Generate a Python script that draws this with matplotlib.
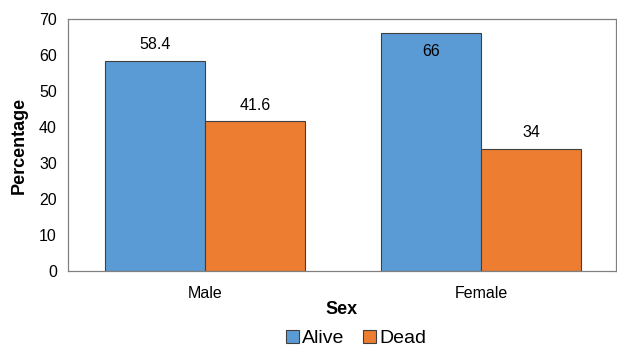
import numpy as np
import matplotlib.pyplot as plt
from matplotlib.patches import Patch

plt.rcParams['font.family'] = ['Liberation Sans', 'DejaVu Sans']

# chart data
categories = ['Male', 'Female']
alive = [58.4, 66]
dead = [41.6, 34]
series_names = ['Alive', 'Dead']
colors = ['#5B9BD5', '#ED7D31']

fig = plt.figure(figsize=(6.17, 3.49), dpi=100)
ax = fig.add_axes([68 / 617, 78 / 349, 548 / 617, 252 / 349])

x = np.arange(len(categories))
w = 100 / 276
b1 = ax.bar(x - w / 2, alive, w, color=colors[0], edgecolor='#404040', linewidth=0.8)
b2 = ax.bar(x + w / 2, dead, w, color=colors[1], edgecolor='#404040', linewidth=0.8)

# value labels: above the bar, or inside when it would leave the plot area
for bars, vals in [(b1, alive), (b2, dead)]:
    for rect, v in zip(bars, vals):
        cx = rect.get_x() + rect.get_width() / 2
        label = f'{v:g}'
        if v + 6 > 70:
            ax.text(cx, v - 3.0, label, ha='center', va='top', fontsize=11.5)
        else:
            ax.text(cx, v + 2.3, label, ha='center', va='bottom', fontsize=11.5)

ax.set_ylim(0, 70)
ax.set_yticks(range(0, 71, 10))
ax.set_xlim(-0.496, 1.489)
ax.set_xticks(x)
ax.set_xticklabels(categories)
ax.tick_params(axis='both', length=0, labelsize=11.5, pad=8)
ax.tick_params(axis='x', pad=11)

for s in ax.spines.values():
    s.set_color('#808080')
    s.set_linewidth(0.9)

ax.set_ylabel('Percentage', fontsize=13, fontweight='bold', labelpad=8)
ax.set_xlabel('Sex', fontsize=13, fontweight='bold', labelpad=0)

handles = [Patch(facecolor=c, edgecolor='#404040', linewidth=0.8) for c in colors]
fig.legend(handles, series_names, loc='lower center', bbox_to_anchor=(0.577, -0.045),
           ncol=2, frameon=False, fontsize=14, handlelength=0.65, handleheight=0.65,
           handletextpad=0.15, columnspacing=1.0)

fig.savefig('out.png', dpi=100)
